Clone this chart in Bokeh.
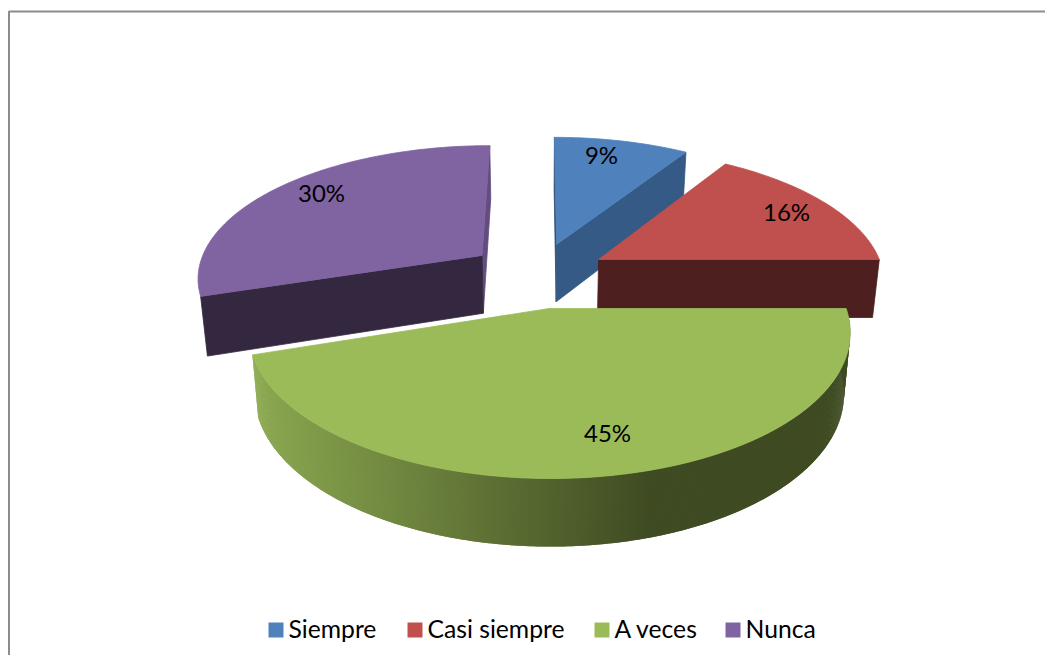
import math
from bokeh.plotting import figure
from bokeh.models import Range1d
from bokeh.core.properties import value
from bokeh.embed import file_html
from bokeh.resources import INLINE

categories = ["Siempre", "Casi siempre", "A veces", "Nunca"]
percents = [9, 16, 45, 30]
top_colors = ["#4f81bd", "#c0504d", "#9bbb59", "#8064a2"]
face_colors = ["#355a85", "#4d1f1e", "#3f4b22", "#332840"]
edge_colors = ["#2c4a6e", "#7a3230", "#5f7436", "#634c80"]

# exploded position of each slice's apex on the pie plane (in radii)
explode_x = [0.058, 0.207, 0.029, -0.209]
explode_y = [-0.483, -0.363, 0.0, -0.395]

VX, VY, R, A, PERS = 540.0, 308.0, 297.0, 142.8, 0.16
SHRINK = 0.98


def project(X, Y):
    s = 1.0 / (1.0 - PERS * Y)
    return VX + R * X * s, VY + A * Y * s


def drop(pt):
    x, y = pt
    depth = 58.0 + 0.046 * (y - 259.0)
    return VX + (x - VX) * SHRINK, y + depth


def rim(i, a):
    t = math.radians(a)
    return project(explode_x[i] + math.sin(t), explode_y[i] - math.cos(t))


def mix(c1, c2, f):
    a = [int(c1[k:k + 2], 16) for k in (1, 3, 5)]
    b = [int(c2[k:k + 2], 16) for k in (1, 3, 5)]
    return "#%02x%02x%02x" % tuple(round(u + (v - u) * f) for u, v in zip(a, b))


bounds = []
acc = 0.0
for v in percents:
    bounds.append((acc * 3.6, (acc + v) * 3.6))
    acc += v

p = figure(width=1045, height=655, output_backend="svg", toolbar_location=None,
           x_range=Range1d(0, 1045), y_range=Range1d(655, 0),
           min_border=0, outline_line_color=None)
p.axis.visible = False
p.grid.visible = False

# chart frame
p.line([1045, 8.5, 8.5], [11, 11, 655], line_color="#8c8c8c", line_width=2)


def poly(pts, color, stroke=True):
    p.patch([q[0] for q in pts], [q[1] for q in pts], fill_color=color,
            line_color=color if stroke else None, line_width=0.8)


for i in (0, 1, 3, 2):
    a0, a1 = bounds[i]
    apex = project(explode_x[i], explode_y[i])
    start, end = rim(i, a0), rim(i, a1)
    n = max(8, int(a1 - a0))
    arc = [rim(i, a0 + (a1 - a0) * k / n) for k in range(n + 1)]

    if i == 0:
        poly([apex, start, drop(start), drop(apex)], edge_colors[i])
    if i in (0, 1):
        poly([apex, end, drop(end), drop(apex)], face_colors[i])
    if i == 3:
        poly([apex, end, drop(end), drop(apex)], edge_colors[i])
        poly([apex, start, drop(start), drop(apex)], face_colors[i])
    # outer wall of the front slice: shaded strip by strip, each overlapping the next
    if i == 2:
        fine = [rim(i, a0 + (a1 - a0) * k / (3 * n)) for k in range(3 * n + 1)]
        order = sorted(range(3 * n), key=lambda k: -fine[k][0])
        for k in order:
            q0, q1 = fine[k], fine[min(k + 2, 3 * n)]
            xm = (fine[k][0] + fine[k + 1][0]) / 2
            f = min(1.0, max(0.0, (xm - 255.0) / (650.0 - 255.0)))
            poly([q0, q1, drop(q1), drop(q0)], mix("#8ba850", face_colors[2], f), stroke=False)
    # top face
    poly([apex] + arc, top_colors[i])

# data labels
label_x = [601, 786, 607, 321]
label_y = [154, 211, 432, 192]
p.text(label_x, label_y, text=[f"{v}%" for v in percents],
       text_font=value("Lato"), text_font_size="24px", text_color="#000000",
       text_align="center", text_baseline="middle")

# legend
swatch_x = [268, 407, 594, 725]
text_x = [288, 427, 614, 745]
for sx, c in zip(swatch_x, top_colors):
    p.quad(left=[sx], right=[sx + 15], top=[622], bottom=[637], fill_color=c, line_color=None)
p.text(text_x, [628] * 4, text=categories, text_font=value("Lato"),
       text_font_size="24.7px", text_color="#000000", text_align="left",
       text_baseline="middle")

open("out.html", "w").write(file_html(p, INLINE))
